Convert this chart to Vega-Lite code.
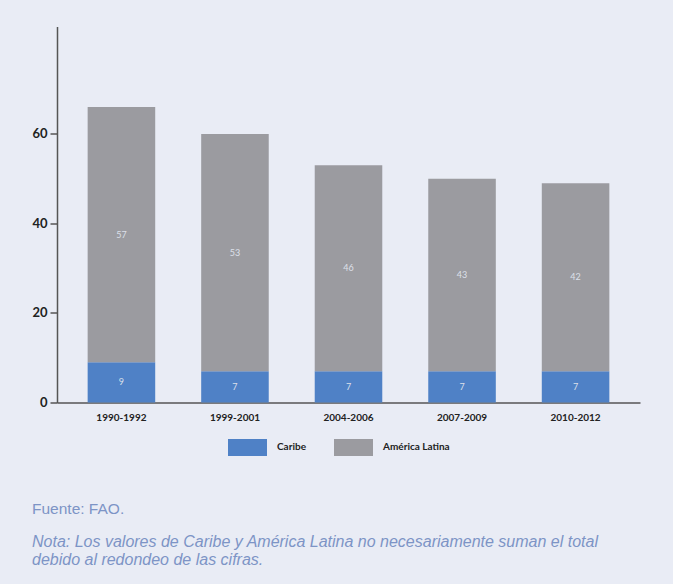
{
  "$schema": "https://vega.github.io/schema/vega-lite/v6.json",
  "autosize": {"type": "none"},
  "padding": {"left": 57, "top": 26.5, "right": 33, "bottom": 181.5},
  "width": 583,
  "height": 376,
  "background": "#e9ecf5",
  "config": {
    "view": {"stroke": null},
    "font": "Lato"
  },
  "title": {
    "text": "Fuente: FAO.",
    "subtitle": ["Nota: Los valores de Caribe y América Latina no necesariamente suman el total", "debido al redondeo de las cifras."],
    "orient": "bottom",
    "anchor": "start",
    "frame": "group",
    "dx": -25,
    "offset": 45,
    "font": "Liberation Sans",
    "fontSize": 15.5,
    "fontWeight": "normal",
    "color": "#7d94c6",
    "subtitleFont": "Liberation Sans",
    "subtitleFontSize": 16,
    "subtitleFontStyle": "italic",
    "subtitleColor": "#7d94c6",
    "subtitlePadding": 17,
    "subtitleLineHeight": 18
  },
  "data": {
    "values": [
      {"periodo": "1990-1992", "serie": "Caribe", "valor": 9},
      {"periodo": "1990-1992", "serie": "América Latina", "valor": 57},
      {"periodo": "1999-2001", "serie": "Caribe", "valor": 7},
      {"periodo": "1999-2001", "serie": "América Latina", "valor": 53},
      {"periodo": "2004-2006", "serie": "Caribe", "valor": 7},
      {"periodo": "2004-2006", "serie": "América Latina", "valor": 46},
      {"periodo": "2007-2009", "serie": "Caribe", "valor": 7},
      {"periodo": "2007-2009", "serie": "América Latina", "valor": 43},
      {"periodo": "2010-2012", "serie": "Caribe", "valor": 7},
      {"periodo": "2010-2012", "serie": "América Latina", "valor": 42}
    ]
  },
  "layer": [
    {
      "mark": {"type": "bar"},
      "encoding": {
        "x": {
          "field": "periodo", "type": "nominal", "sort": null,
          "scale": {"paddingInner": 0.405, "paddingOuter": 0.27},
          "axis": {
            "title": null, "labelAngle": 0, "ticks": false,
            "domainColor": "#555555", "domainWidth": 1.5,
            "labelFont": "Lato", "labelFontSize": 10, "labelFontWeight": "bold",
            "labelColor": "#222222", "labelPadding": 10
          }
        },
        "y": {
          "field": "valor", "type": "quantitative",
          "scale": {"domain": [0, 84], "nice": false},
          "axis": {
            "title": null, "values": [0, 20, 40, 60], "grid": false,
            "domainColor": "#555555", "domainWidth": 1.5,
            "tickColor": "#555555", "tickWidth": 1.5, "tickSize": 7,
            "labelFont": "Lato", "labelFontSize": 13, "labelFontWeight": "bold",
            "labelColor": "#222222", "labelPadding": 3
          }
        },
        "color": {
          "field": "serie", "type": "nominal",
          "scale": {"domain": ["Caribe", "América Latina"], "range": ["#4f81c6", "#9b9ba0"]},
          "legend": {
            "title": null, "orient": "none", "direction": "horizontal",
            "legendX": 171, "legendY": 401,
            "symbolType": "M-1,-0.44H1V0.44H-1Z", "symbolSize": 1521,
            "symbolStrokeWidth": 0, "symbolOpacity": 1,
            "labelFont": "Lato", "labelFontSize": 10, "labelFontWeight": "bold",
            "labelColor": "#222222", "labelOffset": 10, "columnPadding": 28
          }
        },
        "order": {"field": "serie", "sort": "descending"}
      }
    },
    {
      "transform": [
        {"stack": "valor", "groupby": ["periodo"], "sort": [{"field": "serie", "order": "descending"}], "as": ["y0", "y1"]},
        {"fold": ["y0", "y1"], "as": ["extremo", "pos"]}
      ],
      "mark": {"type": "text", "font": "Lato", "fontSize": 9, "color": "#dde0ea", "baseline": "middle"},
      "encoding": {
        "x": {"field": "periodo", "type": "nominal", "sort": null},
        "y": {"aggregate": "mean", "field": "pos", "type": "quantitative", "stack": null, "scale": {"domain": [0, 84], "nice": false}},
        "text": {"field": "valor", "type": "quantitative"},
        "detail": {"field": "serie", "type": "nominal"}
      }
    }
  ]
}
